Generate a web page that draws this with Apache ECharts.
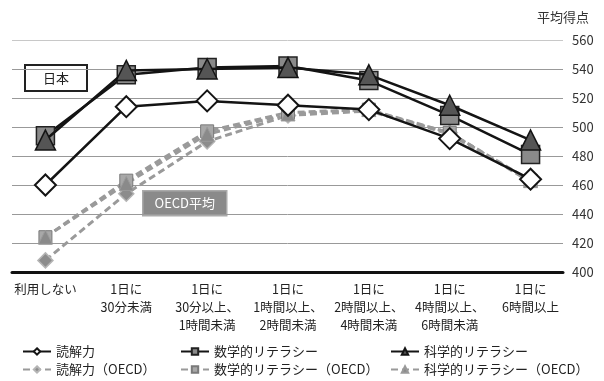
<!DOCTYPE html>
<html>
<head>
<meta charset="utf-8">
<script src="https://cdn.jsdelivr.net/npm/echarts@6/dist/echarts.min.js"></script>
<style>
  html, body { margin: 0; padding: 0; background: #fff; }
  #chart { width: 604px; height: 381px; }
</style>
</head>
<body>
<div id="chart"></div>
<script>
  // 区分（インターネット利用時間）
  var categories = ['利用しない', '1日に\n30分未満', '1日に\n30分以上、\n1時間未満', '1日に\n1時間以上、\n2時間未満',
    '1日に\n2時間以上、\n4時間未満', '1日に\n4時間以上、\n6時間未満', '1日に\n6時間以上'];
  // 日本
  var jpReading = [460, 514, 518, 515, 512, 492, 464];
  var jpMath = [494, 536, 541, 542, 532, 508, 481];
  var jpScience = [491, 539, 540, 541, 536, 515, 491];
  // OECD平均
  var oecdReading = [408, 454, 490, 508, 511, 496, 462];
  var oecdMath = [424, 463, 497, 510, 512, 496, 463];
  var oecdScience = [424, 461, 495, 509, 512, 495, 463];

  var font = '"Noto Sans CJK JP", "Noto Sans", sans-serif';
  var jpLine = { color: '#141414', width: 2.5 };
  var oecdLine = { color: '#9a9a9a', width: 3, type: [7, 4] };

  function legendCol(left, names) {
    return {
      orient: 'vertical', left: left, top: 345, height: 40, padding: 0,
      itemGap: 5, itemWidth: 28, itemHeight: 8,
      textStyle: { fontSize: 13, color: '#222' },
      data: names
    };
  }

  var myChart = echarts.init(document.getElementById('chart'));
  var option = {
    animation: false,
    textStyle: { fontFamily: font },
    title: {
      text: '平均得点',
      right: 10,
      top: 6,
      textStyle: { fontSize: 13, fontWeight: 'normal', color: '#333', fontFamily: font }
    },
    grid: [
      { left: 5, right: 33, top: 40, bottom: 109 },   // 折線位置
      { left: 12, right: 41, top: 40, bottom: 109 }   // 目盛線
    ],
    xAxis: [
      {
        type: 'category',
        gridIndex: 0,
        data: categories,
        boundaryGap: true,
        axisLine: { show: false },
        axisTick: { show: false },
        axisLabel: { color: '#222', fontSize: 12.5, lineHeight: 18, margin: 8, interval: 0 }
      },
      {
        type: 'value',
        gridIndex: 1,
        min: 0,
        max: 1,
        axisLine: { show: true, lineStyle: { color: '#111', width: 3 } },
        axisTick: { show: false },
        axisLabel: { show: false },
        splitLine: { show: false }
      }
    ],
    yAxis: [
      { type: 'value', gridIndex: 0, min: 400, max: 560, interval: 20, show: false },
      {
        type: 'value',
        gridIndex: 1,
        position: 'right',
        min: 400,
        max: 560,
        interval: 20,
        axisLine: { show: false },
        axisTick: { show: false },
        axisLabel: { color: '#333', fontSize: 13, margin: 9 },
        splitLine: {
          lineStyle: {
            color: ['#999', '#999', '#999', '#999', '#999', '#999', '#999', '#999', '#c8c8c8'],
            width: 1
          }
        }
      }
    ],
    legend: [
      legendCol(22, ['読解力', '読解力（OECD）']),
      legendCol(180, ['数学的リテラシー', '数学的リテラシー（OECD）']),
      legendCol(390, ['科学的リテラシー', '科学的リテラシー（OECD）'])
    ],
    graphic: [
      {
        type: 'group', left: 24, top: 64,
        children: [
          { type: 'rect', shape: { x: 0, y: 0, width: 62, height: 26 }, style: { fill: '#fff', stroke: '#222', lineWidth: 2 } },
          { type: 'text', x: 31, y: 13, style: { text: '日本', fill: '#222', font: '13px ' + font, align: 'center', verticalAlign: 'middle' } }
        ]
      },
      {
        type: 'group', left: 142, top: 190,
        children: [
          { type: 'rect', shape: { x: 0, y: 0, width: 84, height: 25 }, style: { fill: '#8a8a8a', stroke: '#aaa', lineWidth: 1.5 } },
          { type: 'text', x: 42, y: 12.5, style: { text: 'OECD平均', fill: '#fff', font: '13px ' + font, align: 'center', verticalAlign: 'middle' } }
        ]
      }
    ],
    series: [
      {
        name: '読解力（OECD）', type: 'line', data: oecdReading, z: 2,
        symbol: 'diamond', symbolSize: 15, lineStyle: oecdLine,
        itemStyle: { color: '#8c8c8c', borderColor: '#b5b5b5', borderWidth: 1.5 }
      },
      {
        name: '数学的リテラシー（OECD）', type: 'line', data: oecdMath, z: 2,
        symbol: 'rect', symbolSize: 13, lineStyle: oecdLine,
        itemStyle: { color: '#a8a8a8', borderColor: '#7a7a7a', borderWidth: 1 }
      },
      {
        name: '科学的リテラシー（OECD）', type: 'line', data: oecdScience, z: 2,
        symbol: 'triangle', symbolSize: 14, lineStyle: oecdLine,
        itemStyle: { color: '#8a8a8a', borderColor: '#9a9a9a', borderWidth: 1 }
      },
      {
        name: '読解力', type: 'line', data: jpReading, z: 3,
        symbol: 'diamond', symbolSize: 21, lineStyle: jpLine,
        itemStyle: { color: '#fff', borderColor: '#141414', borderWidth: 2 }
      },
      {
        name: '数学的リテラシー', type: 'line', data: jpMath, z: 3,
        symbol: 'rect', symbolSize: 18, lineStyle: jpLine,
        itemStyle: { color: '#8a8a8a', borderColor: '#222', borderWidth: 1.5 }
      },
      {
        name: '科学的リテラシー', type: 'line', data: jpScience, z: 4,
        symbol: 'triangle', symbolSize: 20, lineStyle: jpLine,
        itemStyle: { color: '#555', borderColor: '#141414', borderWidth: 1.5 }
      }
    ]
  };
  myChart.setOption(option);
</script>
</body>
</html>
